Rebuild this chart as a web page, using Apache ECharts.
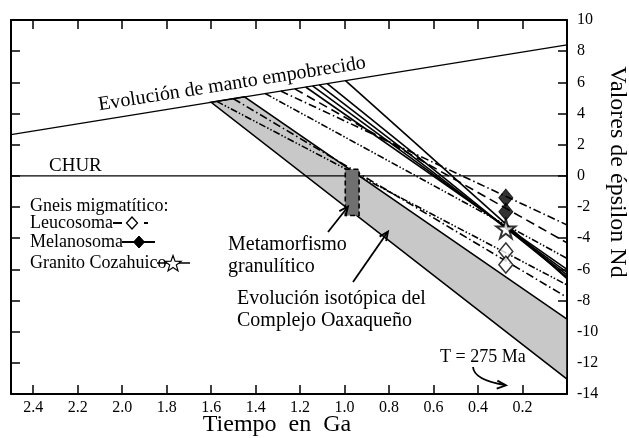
<!DOCTYPE html>
<html><head><meta charset="utf-8">
<script src="https://cdn.jsdelivr.net/npm/echarts@6/dist/echarts.min.js"></script>
<style>html,body{margin:0;padding:0;background:#fff}#c{width:629px;height:438px}</style>
</head><body><div id="c"></div>
<script>
// ---- data ----
const xTicksGa = [2.4, 2.2, 2.0, 1.8, 1.6, 1.4, 1.2, 1.0, 0.8, 0.6, 0.4, 0.2];
const yTicksEps = [10, 8, 6, 4, 2, 0, -2, -4, -6, -8, -10, -12, -14];
const dmLine = [[2.5, 2.65], [0, 8.4]];          // depleted mantle evolution
const churLine = [[2.5, 0], [0, 0]];
const bandPolygon = [[1.60, 4.72], [1.45, 5.07], [0, -9.2], [0, -13.05]];
const metaRect = [[0.997, 0.42], [0.935, 0.42], [0.935, -2.55], [0.997, -2.55]];
const lineStartT   = [1.575, 1.50, 1.357, 1.287, 1.224, 1.175, 1.144, 1.114, 1.078, 0.996];
const lineStartEps = [4.78, 4.95, 5.28, 5.44, 5.58, 5.70, 5.77, 5.84, 5.92, 6.11];
const lineEndEps   = [-7.0, -7.8, -5.3, -3.15, -4.3, -6.0, -6.2, -6.35, -6.5, -6.6];
const sampleAge = 0.275;
const leucosoma = [-4.85, -5.7];
const melanosoma = [-1.4, -2.3];
const granito = [-3.4];

// ---- styles ----
const F = 'Liberation Serif, Times New Roman, serif';
const DDOT = [7, 2, 1.5, 2, 1.5, 2];
const DDASH = [8, 3, 1.5, 3];
const DASH = [9, 5];
const lineTypes = [DDOT, DDASH, DDOT, DDASH, DASH, 'solid', 'solid', 'solid', 'solid', 'solid'];
const starPath = 'path://M50,0 L61.8,35.5 L100,35.5 L69.1,57.5 L80.9,93 L50,71 L19.1,93 L30.9,57.5 L0,35.5 L38.2,35.5 Z';

const chart = echarts.init(document.getElementById('c'), null, {renderer: 'canvas'});

function polySeries(pts, fill, stroke, dash, z) {
  return {
    type: 'custom', z: z, silent: true,
    data: [0],
    renderItem: function (params, api) {
      const p = pts.map(d => api.coord(d));
      return {type: 'polygon', shape: {points: p},
        style: {fill: fill, stroke: stroke, lineWidth: 1.6, lineDash: dash}};
    }
  };
}

const series = [];
series.push(polySeries(bandPolygon, '#c8c8c8', '#000', null, 1));
series.push({type: 'line', data: dmLine, symbol: 'none', z: 3, lineStyle: {color: '#000', width: 1.2}});
series.push({type: 'line', data: churLine, symbol: 'none', z: 3, lineStyle: {color: '#000', width: 1.2}});
for (let i = 0; i < lineStartT.length; i++) {
  series.push({type: 'line', symbol: 'none', z: 4,
    data: [[lineStartT[i], lineStartEps[i]], [0, lineEndEps[i]]],
    lineStyle: {color: '#000', width: 1.6, type: lineTypes[i]}});
}
series.push(polySeries(metaRect, '#707070', '#000', [5, 3], 5));
series.push({type: 'scatter', z: 10, symbol: 'diamond', symbolSize: [14, 17],
  data: leucosoma.map(v => [sampleAge, v]),
  itemStyle: {color: '#fff', borderColor: '#000', borderWidth: 1.5}});
series.push({type: 'scatter', z: 10, symbol: 'diamond', symbolSize: [14, 17],
  data: melanosoma.map(v => [sampleAge, v]),
  itemStyle: {color: '#000', borderColor: '#000', borderWidth: 1}});
series.push({type: 'scatter', z: 10, symbol: starPath, symbolSize: 19,
  data: granito.map(v => [sampleAge, v]),
  itemStyle: {color: '#fff', borderColor: '#000', borderWidth: 2}});

const axisLine = {show: true, onZero: false, lineStyle: {color: '#000', width: 2}};
const tick = {show: true, inside: true, length: 9, lineStyle: {color: '#000', width: 1.5}};

function arrowHead(x, y, ang) {
  const L = 9, W = 4;
  const bx = x - L * Math.cos(ang), by = y - L * Math.sin(ang);
  const nx = -Math.sin(ang), ny = Math.cos(ang);
  return {type: 'polyline', shape: {points: [[bx + W * nx, by + W * ny], [x, y], [bx - W * nx, by - W * ny]]},
    style: {stroke: '#000', lineWidth: 1.8, fill: null}, z: 20};
}
function txt(t, x, y, size, extra) {
  const o = {type: 'text', x: x, y: y, z: 20,
    style: {text: t, font: size + 'px ' + F, fill: '#000', verticalAlign: 'middle', align: 'left'}};
  if (extra) { if (extra.rotation !== undefined) o.rotation = extra.rotation; if (extra.align) o.style.align = extra.align; }
  return o;
}

const graphic = [
  txt('Gneis migmatítico:', 30, 206, 18),
  txt('Leucosoma', 30, 223, 18),
  txt('Melanosoma', 30, 242, 18),
  txt('Granito Cozahuico', 30, 263, 18),
  {type: 'line', shape: {x1: 113, y1: 223, x2: 148, y2: 223}, style: {stroke: '#000', lineWidth: 2, lineDash: [9, 10, 2, 10]}, z: 20},
  {type: 'polygon', shape: {points: [[132, 217], [137.5, 223], [132, 229], [126.5, 223]]}, style: {fill: '#fff', stroke: '#000', lineWidth: 1.3}, z: 21},
  {type: 'line', shape: {x1: 122, y1: 242, x2: 155, y2: 242}, style: {stroke: '#000', lineWidth: 2.2}, z: 20},
  {type: 'polygon', shape: {points: [[139, 236], [144.5, 242], [139, 248], [133.5, 242]]}, style: {fill: '#000', stroke: '#000', lineWidth: 1}, z: 21},
  {type: 'line', shape: {x1: 157, y1: 263, x2: 190, y2: 263}, style: {stroke: '#000', lineWidth: 1.6}, z: 20},
  {type: 'polygon', shape: {points: (function () {
      const pts = []; for (let k = 0; k < 10; k++) { const r = k % 2 ? 3.5 : 8.5; const a = -Math.PI / 2 + k * Math.PI / 5; pts.push([173 + r * Math.cos(a), 264 + r * Math.sin(a)]); } return pts; })()},
    style: {fill: '#fff', stroke: '#000', lineWidth: 1.2}, z: 21},
  txt('CHUR', 49, 166, 19),
  txt('Evolución de manto empobrecido', 232, 84, 20, {rotation: 9 * Math.PI / 180, align: 'center'}),
  txt('Metamorfismo', 228, 245, 20),
  txt('granulítico', 228, 267, 20),
  txt('Evolución isotópica del', 237, 299, 20),
  txt('Complejo Oaxaqueño', 237, 321, 20),
  txt('T = 275 Ma', 440, 357, 18),
  {type: 'line', shape: {x1: 328, y1: 232, x2: 347, y2: 208}, style: {stroke: '#000', lineWidth: 1.8}, z: 20},
  arrowHead(348, 206.5, Math.atan2(-25.5, 20)),
  {type: 'line', shape: {x1: 353, y1: 282, x2: 387, y2: 233}, style: {stroke: '#000', lineWidth: 1.8}, z: 20},
  arrowHead(388, 231.5, Math.atan2(-50.5, 35)),
  {type: 'bezierCurve', shape: {x1: 473, y1: 367, cpx1: 474, cpy1: 380, x2: 505, y2: 385}, style: {stroke: '#000', lineWidth: 1.8, fill: null}, z: 20},
  arrowHead(506, 385.3, 0.08),
  txt('Valores de épsilon Nd', 617, 172, 24, {rotation: -Math.PI / 2, align: 'center'}),
  txt('Tiempo  en  Ga', 277, 425, 24, {align: 'center'})
];

const option = {
  animation: false,
  backgroundColor: '#fff',
  grid: {left: 11, right: 62, top: 20, bottom: 44},
  xAxis: [
    {type: 'value', min: 0, max: 2.5, interval: 0.2, inverse: true, position: 'bottom',
     axisLine: axisLine, axisTick: tick, splitLine: {show: false},
     axisLabel: {color: '#000', fontFamily: F, fontSize: 16, margin: 6,
       formatter: v => (xTicksGa.some(t => Math.abs(t - v) < 1e-6) ? v.toFixed(1) : '')}},
    {type: 'value', min: 0, max: 2.5, interval: 0.2, inverse: true, position: 'top',
     axisLine: axisLine, axisTick: tick, splitLine: {show: false}, axisLabel: {show: false}}
  ],
  yAxis: [
    {type: 'value', min: -14, max: 10, interval: 2, position: 'right',
     axisLine: axisLine, axisTick: tick, splitLine: {show: false},
     axisLabel: {color: '#000', fontFamily: F, fontSize: 16, margin: 10,
       formatter: v => (yTicksEps.indexOf(v) >= 0 ? String(v) : '')}},
    {type: 'value', min: -14, max: 10, interval: 2, position: 'left',
     axisLine: axisLine, axisTick: tick, splitLine: {show: false}, axisLabel: {show: false}}
  ],
  series: series,
  graphic: graphic
};
chart.setOption(option);
</script>
</body></html>
